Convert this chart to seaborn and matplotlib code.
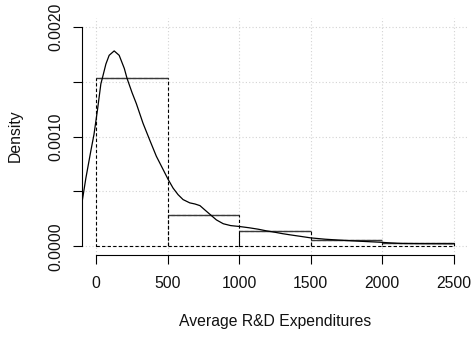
import numpy as np
import matplotlib
matplotlib.use("Agg")
import matplotlib.pyplot as plt
from matplotlib.ticker import FixedLocator, FuncFormatter
import seaborn as sns

# Histogram bins (R&D expenditure) and their densities
bin_edges = [0, 500, 1000, 1500, 2000, 2500]
bin_density = [0.00153, 0.000288, 0.00014, 0.000056, 0.000025]

# Kernel density estimate traced as (x, density) pairs
kde_x = [-106, -73, -38, -16, 8, 32, 44, 67, 90, 125, 160, 196, 215, 250,
         280, 327, 373, 420, 467, 502, 537, 572, 607, 654, 690, 725, 760,
         800, 840, 888, 940, 1000, 1070, 1133, 1190, 1251, 1300, 1354, 1428,
         1500, 1600, 1708, 1850, 1990, 2060, 2132, 2300, 2500]
kde_y = [0.00035, 0.00062, 0.00087, 0.00102, 0.00124, 0.00148, 0.00154,
         0.00166, 0.00174, 0.00178, 0.00174, 0.00162, 0.00153, 0.00140,
         0.00130, 0.00112, 0.00097, 0.00082, 0.00070, 0.00061, 0.00053,
         0.00047, 0.000425, 0.000395, 0.000385, 0.00037, 0.00033,
         0.000285, 0.00024, 0.000205, 0.000188, 0.00018, 0.000168,
         0.000155, 0.00014, 0.000127, 0.000115, 0.000104, 0.00009,
         0.000076, 0.000064, 0.000055, 0.000045, 0.000036, 0.00003,
         0.000025, 0.000023, 0.000022]

x_ticks = [0, 500, 1000, 1500, 2000, 2500]
y_ticks = [0.0, 0.0005, 0.0010, 0.0015, 0.0020]
y_labelled = {0.0: "0.0000", 0.0010: "0.0010", 0.0020: "0.0020"}

sns.set_style("white")
plt.rcParams["font.family"] = ["Liberation Sans", "DejaVu Sans"]
fs = 11.3

fig = plt.figure(figsize=(4.72, 3.4), dpi=100)
ax = fig.add_axes([82 / 472, 85 / 340, 386 / 472, 237 / 340])
ax.set_xlim(-100, 2600)
ax.set_ylim(-0.00008, 0.00208)

# histogram outline: dashed boxes, solid tops
mids = [(a + b) / 2 for a, b in zip(bin_edges[:-1], bin_edges[1:])]
sns.histplot(x=mids, weights=bin_density, bins=bin_edges, stat="count",
             fill=False, color="black", linewidth=0.8,
             linestyle=(0, (3, 2)), ax=ax, zorder=3)
ax.hlines(bin_density, bin_edges[:-1], bin_edges[1:], color="#3a3a3a",
          linewidth=1.0, zorder=4)

# density curve
sns.lineplot(x=kde_x, y=kde_y, color="black", linewidth=0.9, ax=ax,
             zorder=5)

# axes styling
ax.xaxis.set_major_locator(FixedLocator(x_ticks))
ax.yaxis.set_major_locator(FixedLocator(y_ticks))
ax.xaxis.set_major_formatter(FuncFormatter(lambda v, p: f"{int(v)}"))
ax.yaxis.set_major_formatter(
    FuncFormatter(lambda v, p: y_labelled.get(round(v, 4), "")))
ax.grid(True, color="#d3d3d3", linestyle=(0, (1, 2)), linewidth=0.8,
        zorder=0)
for side in ("top", "right"):
    ax.spines[side].set_visible(False)
ax.spines["left"].set_bounds(0, 0.002)
ax.spines["bottom"].set_bounds(0, 2500)
for side in ("left", "bottom"):
    ax.spines[side].set_color("black")
    ax.spines[side].set_linewidth(0.8)

ax.tick_params(axis="both", which="major", direction="out", length=6.5,
               width=0.8, color="black", labelsize=fs,
               labelcolor="#111111", bottom=True, left=True)
ax.tick_params(axis="x", pad=8.5)
ax.tick_params(axis="y", pad=12)
for lab in ax.get_yticklabels():
    lab.set_rotation(90)
    lab.set_verticalalignment("center")
    lab.set_horizontalalignment("center")

ax.set_xlabel("Average R&D Expenditures", fontsize=fs, color="#111111",
              va="center")
ax.xaxis.set_label_coords(0.5, -0.281)
ax.set_ylabel("Density", fontsize=fs, color="#111111", va="center")
ax.yaxis.set_label_coords(-0.1736, 0.502)

fig.savefig("out.png", dpi=100)
